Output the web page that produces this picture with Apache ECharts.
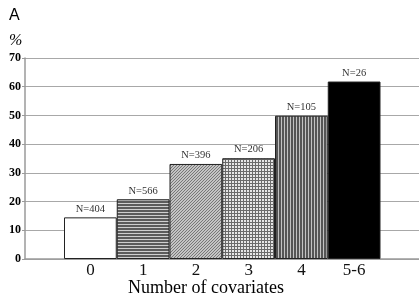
<!DOCTYPE html>
<html>
<head>
<meta charset="utf-8">
<script src="https://cdn.jsdelivr.net/npm/echarts@6/dist/echarts.min.js"></script>
<style>
    html, body { margin: 0; padding: 0; background: #fff; }
    #main { width: 419px; height: 297px; }
</style>
</head>
<body>
<div id="main"></div>
<script>
    // data
    var categories = ['0', '1', '2', '3', '4', '5-6'];
    var percents = [14.5, 20.8, 33.1, 35.1, 49.9, 61.8];
    var counts = [404, 566, 396, 206, 105, 26];
    var yTicks = [0, 10, 20, 30, 40, 50, 60, 70];

    // small canvas textures for the bar fills
    function texture(w, h, draw) {
        var c = document.createElement('canvas');
        c.width = w;
        c.height = h;
        var ctx = c.getContext('2d');
        draw(ctx, w, h);
        return {image: c, repeat: 'repeat'};
    }

    var fills = [
        '#ffffff',
        texture(2, 3, function (ctx, w, h) {   // horizontal stripes
            ctx.fillStyle = '#cfcfcf';
            ctx.fillRect(0, 0, w, h);
            ctx.fillStyle = '#5c5c5c';
            ctx.fillRect(0, 0, w, 2);
        }),
        texture(3, 3, function (ctx, w, h) {   // fine diagonal hatch
            ctx.fillStyle = '#c4c4c4';
            ctx.fillRect(0, 0, w, h);
            ctx.fillStyle = '#777777';
            for (var i = 0; i < h; i++) {
                ctx.fillRect(w - 1 - i, i, 1, 1);
            }
        }),
        texture(3, 3, function (ctx, w, h) {   // small grid
            ctx.fillStyle = '#e6e6e6';
            ctx.fillRect(0, 0, w, h);
            ctx.fillStyle = '#6a6a6a';
            ctx.fillRect(0, 0, w, 1);
            ctx.fillRect(0, 0, 1, h);
        }),
        texture(3, 2, function (ctx, w, h) {   // vertical stripes
            ctx.fillStyle = '#c2c2c2';
            ctx.fillRect(0, 0, w, h);
            ctx.fillStyle = '#555555';
            ctx.fillRect(0, 0, 2, h);
        }),
        '#000000'
    ];

    var myChart = echarts.init(document.getElementById('main'), null, {renderer: 'canvas'});

    var option = {
        animation: false,
        textStyle: {fontFamily: 'Liberation Serif'},
        grid: [
            {left: 25, right: 0, top: 58, bottom: 38},
            {left: 64, right: 38.5, top: 58, bottom: 38}
        ],
        xAxis: [
            {
                gridIndex: 0,
                type: 'value',
                min: 0,
                max: 1,
                axisLine: {show: true, lineStyle: {color: '#9a9a9a', width: 1.5}},
                axisTick: {show: false},
                axisLabel: {show: false},
                splitLine: {show: false}
            },
            {
                gridIndex: 1,
                type: 'category',
                data: categories,
                axisLine: {show: false},
                axisTick: {show: false},
                axisLabel: {
                    margin: 3,
                    color: '#111',
                    fontSize: 17,
                    fontFamily: 'Liberation Serif'
                }
            }
        ],
        yAxis: [
            {
                gridIndex: 0,
                type: 'value',
                min: yTicks[0],
                max: yTicks[yTicks.length - 1],
                interval: 10,
                axisLine: {show: true, lineStyle: {color: '#9a9a9a', width: 1.5}},
                axisTick: {show: true, length: 3, lineStyle: {color: '#9a9a9a'}},
                axisLabel: {
                    margin: 4,
                    color: '#000',
                    fontSize: 12,
                    fontWeight: 'bold',
                    fontFamily: 'Liberation Serif'
                },
                splitLine: {lineStyle: {color: '#a8a8a8', width: 1.2}}
            },
            {
                gridIndex: 1,
                type: 'value',
                min: 0,
                max: 70,
                show: false
            }
        ],
        graphic: [
            {type: 'text', left: 9, top: 8, style: {text: 'A', font: '16px "Liberation Sans"', fill: '#000'}},
            {type: 'text', left: 9, top: 33, style: {text: '%', font: 'italic 16px "Liberation Serif"', fill: '#000'}},
            {type: 'text', left: 128, top: 279, style: {text: 'Number of covariates', font: '18px "Liberation Serif"', fill: '#000'}}
        ],
        series: [
            {
                type: 'bar',
                xAxisIndex: 1,
                yAxisIndex: 1,
                barCategoryGap: 0,
                data: percents.map(function (v, i) {
                    return {
                        value: v,
                        itemStyle: {color: fills[i], borderColor: '#222', borderWidth: 1}
                    };
                }),
                label: {
                    show: true,
                    position: 'top',
                    distance: 3,
                    fontSize: 10.5,
                    color: '#333',
                    fontFamily: 'Liberation Serif',
                    formatter: function (p) {
                        return 'N=' + counts[p.dataIndex];
                    }
                }
            }
        ]
    };

    myChart.setOption(option);
</script>
</body>
</html>
